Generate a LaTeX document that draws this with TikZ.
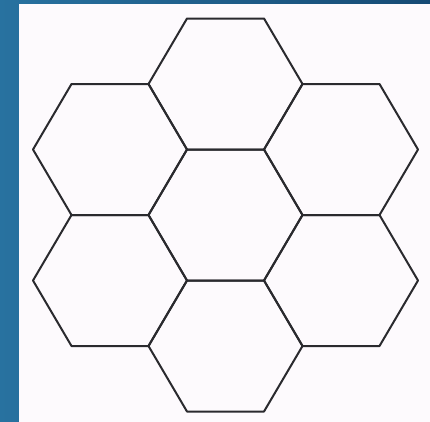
\documentclass[tikz,border=0pt]{standalone}
\usetikzlibrary{calc}
\definecolor{frameblue}{RGB}{40,114,160}
\definecolor{framedark}{RGB}{22,74,116}
\definecolor{paper}{RGB}{253,250,253}
\definecolor{hexline}{RGB}{42,42,46}
\begin{document}
\begin{tikzpicture}[x=1pt,y=-1pt]
	\tikzset{hexcell/.style={draw=hexline, line width=2pt, line join=round}}
	\useasboundingbox (0,0) rectangle (430,421);

	% Frame: blue strip on the left and top, white paper
	\shade[left color=frameblue, right color=framedark] (-1,-1) rectangle (431,422);
	\fill[paper] (19,4) rectangle (431,422);

	% Cell centres (middle, then round it clockwise from the top)
	\coordinate (C0) at (226,215);
	\coordinate (C1) at (226,84);
	\coordinate (C2) at (341.5,149.5);
	\coordinate (C3) at (341.5,280.5);
	\coordinate (C4) at (226,346);
	\coordinate (C5) at (110.5,280.5);
	\coordinate (C6) at (110.5,149.5);

	% Flat-topped hexagons
	\foreach \i in {0,...,6} {
		\draw[hexcell] ($(C\i)+(-77.5,0)$) -- ++(38.5,-65.5) -- ++(77,0) -- ++(38.5,65.5)
			-- ++(-38.5,65.5) -- ++(-77,0) -- cycle;
	}
\end{tikzpicture}
\end{document}
